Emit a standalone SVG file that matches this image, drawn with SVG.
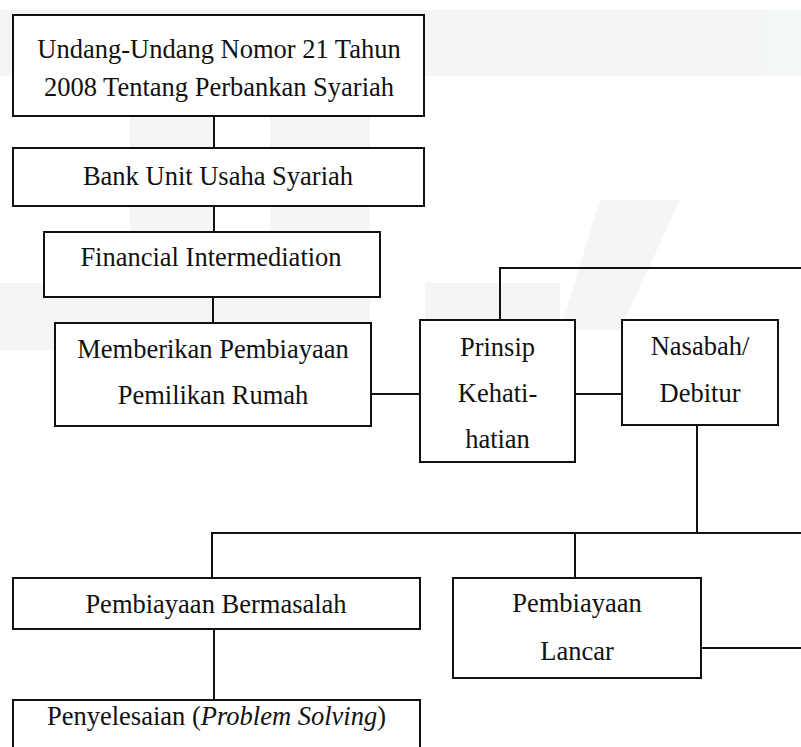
<svg xmlns="http://www.w3.org/2000/svg" width="801" height="747" viewBox="0 0 801 747">
  <style>
    .box { fill: #ffffff; stroke: #111111; stroke-width: 2; }
    .ln { fill: none; stroke: #111111; stroke-width: 2; }
    .t { font-size: 26.5px; fill: #111111; text-anchor: middle; }
    .wm { fill: #eef3f1; }
  </style>
  <rect x="0" y="0" width="801" height="747" fill="#ffffff"/>
  <g id="watermark" opacity="0.7">
    <rect class="wm" x="0" y="10" width="801" height="66"/>
    <rect class="wm" x="130" y="76" width="85" height="274"/>
    <rect class="wm" x="270" y="76" width="100" height="274"/>
    <rect class="wm" x="0" y="283" width="370" height="67"/>
    <rect class="wm" x="425" y="283" width="135" height="67"/>
    <polygon class="wm" points="600,200 680,200 620,330 560,330"/>
  </g>
  <g id="connectors">
    <line class="ln" x1="214" y1="116" x2="214" y2="148"/>
    <line class="ln" x1="214" y1="206" x2="214" y2="232"/>
    <line class="ln" x1="213" y1="297" x2="213" y2="323"/>
    <line class="ln" x1="371" y1="394" x2="420" y2="394"/>
    <line class="ln" x1="575" y1="394" x2="622" y2="394"/>
    <polyline class="ln" points="500,320 500,268 801,268"/>
    <line class="ln" x1="697" y1="425" x2="697" y2="533"/>
    <polyline class="ln" points="212,578 212,533 801,533"/>
    <line class="ln" x1="575" y1="533" x2="575" y2="578"/>
    <line class="ln" x1="701" y1="648" x2="801" y2="648"/>
    <line class="ln" x1="214" y1="629" x2="214" y2="700"/>
  </g>
  <g font-family="Liberation Serif, Times New Roman, serif">
  <g id="n-uu">
    <rect class="box" x="13" y="15" width="411" height="101"/>
    <text class="t" x="219" y="58">Undang-Undang Nomor 21 Tahun</text>
    <text class="t" x="219" y="96">2008 Tentang Perbankan Syariah</text>
  </g>
  <g id="n-bank">
    <rect class="box" x="13" y="148" width="411" height="58"/>
    <text class="t" x="218" y="185">Bank Unit Usaha Syariah</text>
  </g>
  <g id="n-fin">
    <rect class="box" x="44" y="232" width="336" height="65"/>
    <text class="t" x="211" y="266">Financial Intermediation</text>
  </g>
  <g id="n-pemb">
    <rect class="box" x="55" y="323" width="316" height="103"/>
    <text class="t" x="213" y="358">Memberikan Pembiayaan</text>
    <text class="t" x="213" y="404">Pemilikan Rumah</text>
  </g>
  <g id="n-prinsip">
    <rect class="box" x="420" y="320" width="155" height="142"/>
    <text class="t" x="497.5" y="356">Prinsip</text>
    <text class="t" x="497.5" y="402">Kehati-</text>
    <text class="t" x="497.5" y="448">hatian</text>
  </g>
  <g id="n-nasabah">
    <rect class="box" x="622" y="320" width="156" height="105"/>
    <text class="t" x="700" y="355">Nasabah/</text>
    <text class="t" x="700" y="402">Debitur</text>
  </g>
  <g id="n-bermasalah">
    <rect class="box" x="13" y="578" width="407" height="51"/>
    <text class="t" x="216" y="613">Pembiayaan Bermasalah</text>
  </g>
  <g id="n-lancar">
    <rect class="box" x="453" y="578" width="248" height="100"/>
    <text class="t" x="577" y="612">Pembiayaan</text>
    <text class="t" x="577" y="660">Lancar</text>
  </g>
  <g id="n-penyelesaian">
    <rect class="box" x="13" y="700" width="407" height="60"/>
    <text class="t" x="216.5" y="725">Penyelesaian (<tspan font-style="italic">Problem Solving</tspan>)</text>
  </g>
  </g>
</svg>
